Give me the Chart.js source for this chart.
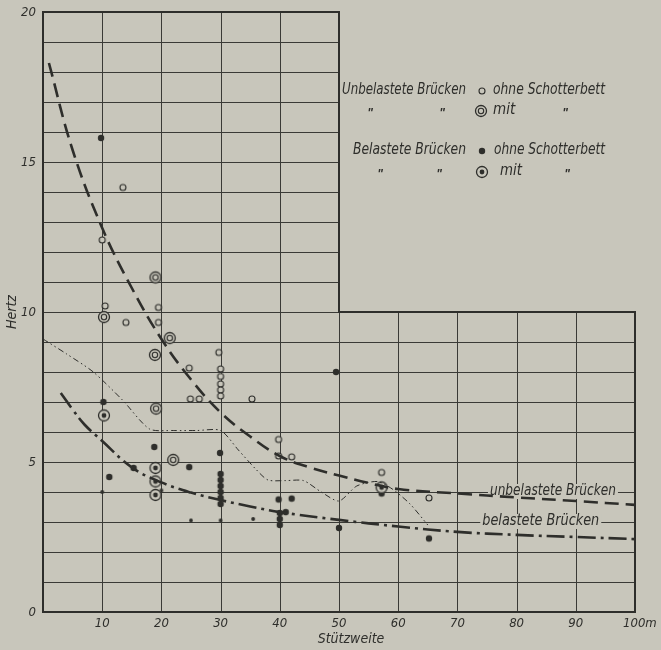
<!DOCTYPE html>
<html>
<head>
<meta charset="utf-8">
<title>Eigenfrequenz von Brücken</title>
<script src="https://cdn.jsdelivr.net/npm/chart.js"></script>
<style>
  html, body { margin: 0; padding: 0; background: #c8c6bb; }
  canvas { display: block; }
</style>
</head>
<body>
<canvas id="bridgeChart" width="661" height="650"></canvas>
<script>
// --- data ---
const xTicks = [10, 20, 30, 40, 50, 60, 70, 80, 90, 100];
const xTickLabels = ['10', '20', '30', '40', '50', '60', '70', '80', '90', '100m'];
const yTicks = [0, 5, 10, 15, 20];

// curves
const unbelX = [1, 5, 10, 15, 20, 25, 30, 35, 40, 45, 50, 55, 60, 70, 80, 90, 100];
const unbelY = [18.3, 15.4, 12.8, 10.8, 9.1, 7.75, 6.65, 5.85, 5.2, 4.82, 4.55, 4.3, 4.1, 3.95, 3.82, 3.7, 3.57];
const belX = [3, 5, 7, 10, 15, 20, 25, 30, 35, 40, 50, 60, 70, 80, 90, 100];
const belY = [7.3, 6.75, 6.25, 5.7, 4.82, 4.32, 3.98, 3.73, 3.52, 3.33, 3.07, 2.85, 2.67, 2.57, 2.5, 2.43];
const meanX = [0, 4, 8.5, 13.5, 18, 22, 26, 30, 33, 36, 38, 41, 44, 47, 50, 53, 56.5, 59, 62, 65];
const meanY = [9.1, 8.6, 8.0, 7.05, 6.1, 6.05, 6.05, 6.05, 5.4, 4.75, 4.4, 4.38, 4.38, 4.0, 3.7, 4.2, 4.35, 4.1, 3.6, 2.9];

// measured points
const unbelOhneX = [13.5, 10, 10.5, 14, 19.5, 19.5, 24.7, 24.9, 26.4, 29.7, 30, 30, 30, 30, 30, 35.3, 39.8, 39.8, 42, 57.2, 65.2];
const unbelOhneY = [14.15, 12.4, 10.2, 9.65, 10.15, 9.65, 8.13, 7.1, 7.1, 8.65, 8.1, 7.85, 7.6, 7.4, 7.2, 7.1, 5.75, 5.2, 5.17, 4.65, 3.8];
const unbelMitX = [19, 10.3, 21.4, 18.9, 19.1, 22];
const unbelMitY = [11.15, 9.83, 9.13, 8.57, 6.78, 5.07];
const belOhneX = [9.8, 10.2, 11.2, 15.3, 18.8, 24.7, 29.9, 30, 30, 30, 30, 30, 30, 39.8, 42, 40, 40, 40, 41, 49.5, 50, 57.2, 65.2];
const belOhneY = [15.8, 7.0, 4.5, 4.8, 5.5, 4.83, 5.3, 4.6, 4.4, 4.2, 4.0, 3.8, 3.6, 3.75, 3.78, 3.3, 3.1, 2.9, 3.33, 8.0, 2.8, 3.95, 2.45];
const belMitX = [10.3, 19, 19, 19, 57.2];
const belMitY = [6.55, 4.8, 4.35, 3.9, 4.15];
const smallX = [10, 20, 25, 30, 35.5];
const smallY = [4, 4.05, 3.05, 3.05, 3.1];

const ink = '#2e2e2b';
const paper = '#c8c6bb';
const textFont = 'italic 15px "Liberation Sans Narrow", "DejaVu Sans Condensed", sans-serif';

const pts = (xs, ys) => xs.map((x, i) => ({ x: x, y: ys[i] }));

function drawMarker(g, kind, x, y) {
    g.save();
    g.strokeStyle = ink;
    g.fillStyle = paper;
    if (kind === 'open') {
        g.lineWidth = 1.1;
        g.beginPath(); g.arc(x, y, 3, 0, Math.PI * 2); g.fill(); g.stroke();
    } else if (kind === 'double') {
        g.lineWidth = 1.3;
        g.beginPath(); g.arc(x, y, 5.5, 0, Math.PI * 2); g.fill(); g.stroke();
        g.lineWidth = 1.1;
        g.beginPath(); g.arc(x, y, 2.7, 0, Math.PI * 2); g.stroke();
    } else if (kind === 'dot') {
        g.fillStyle = ink;
        g.beginPath(); g.arc(x, y, 3.2, 0, Math.PI * 2); g.fill();
    } else if (kind === 'ringdot') {
        g.lineWidth = 1.3;
        g.beginPath(); g.arc(x, y, 5.5, 0, Math.PI * 2); g.fill(); g.stroke();
        g.fillStyle = ink;
        g.beginPath(); g.arc(x, y, 2.4, 0, Math.PI * 2); g.fill();
    } else if (kind === 'small') {
        g.fillStyle = ink;
        g.beginPath(); g.arc(x, y, 1.9, 0, Math.PI * 2); g.fill();
    }
    g.restore();
}

function markerImage(kind) {
    const c = document.createElement('canvas');
    c.width = 16; c.height = 16;
    drawMarker(c.getContext('2d'), kind, 8, 8);
    return c;
}

function curve(xs, ys, width, dash, tension) {
    return {
        data: pts(xs, ys), showLine: true, pointRadius: 0,
        borderColor: ink, borderWidth: width, borderDash: dash,
        tension: tension, fill: false
    };
}

function marks(xs, ys, kind) {
    return {
        data: pts(xs, ys), showLine: false,
        pointStyle: markerImage(kind), pointRadius: 6
    };
}

// grid, labels and legend text drawn from the scales
const paperPlugin = {
    id: 'paper',
    beforeDraw(chart) {
        const g = chart.ctx, xs = chart.scales.x, ys = chart.scales.y;
        const X = v => xs.getPixelForValue(v), Y = v => ys.getPixelForValue(v);
        g.save();
        g.fillStyle = paper;
        g.fillRect(0, 0, chart.width, chart.height);
        g.strokeStyle = '#3a3a36';
        g.lineWidth = 1;
        // vertical grid lines
        for (let v = 10; v < 100; v += 10) {
            const top = v <= 50 ? 20 : 10;
            g.beginPath(); g.moveTo(Math.round(X(v)) + 0.5, Y(0)); g.lineTo(Math.round(X(v)) + 0.5, Y(top)); g.stroke();
        }
        // horizontal grid lines
        for (let v = 1; v < 20; v++) {
            const right = v <= 10 ? 100 : 50;
            g.beginPath(); g.moveTo(X(0), Math.round(Y(v)) + 0.5); g.lineTo(X(right), Math.round(Y(v)) + 0.5); g.stroke();
        }
        // L-shaped frame
        g.lineWidth = 2;
        g.strokeStyle = ink;
        g.beginPath();
        g.moveTo(X(0), Y(20)); g.lineTo(X(50), Y(20)); g.lineTo(X(50), Y(10));
        g.lineTo(X(100), Y(10)); g.lineTo(X(100), Y(0)); g.lineTo(X(0), Y(0)); g.closePath();
        g.stroke();
        g.restore();
    },
    beforeDatasetsDraw(chart) {
        const g = chart.ctx, xs = chart.scales.x, ys = chart.scales.y;
        const X = v => xs.getPixelForValue(v), Y = v => ys.getPixelForValue(v);
        g.save();
        g.fillStyle = ink;
        g.font = 'italic 13px "Liberation Sans Narrow", "DejaVu Sans Condensed", sans-serif';
        g.textBaseline = 'middle';
        // y ticks
        g.textAlign = 'right';
        yTicks.forEach(v => g.fillText(String(v), X(0) - 7, Y(v) + 1));
        // x ticks
        xTicks.forEach((v, i) => {
            const lab = xTickLabels[i];
            if (lab.endsWith('m')) { g.textAlign = 'left'; g.fillText(lab, X(v) - 12, Y(0) + 12); }
            else { g.textAlign = 'center'; g.fillText(lab, X(v), Y(0) + 12); }
        });
        // axis titles
        g.font = 'italic 14px "Liberation Sans Narrow", "DejaVu Sans Condensed", sans-serif';
        g.textAlign = 'center';
        g.fillText('Stützweite', X(50) + 12, Y(0) + 27);
        g.save();
        g.translate(12, Y(10));
        g.rotate(-Math.PI / 2);
        g.fillText('Hertz', 0, 0);
        g.restore();

        // curve captions sitting on grid lines
        g.font = textFont;
        g.textAlign = 'left';
        const caption = (txt, x0, w, yv) => {
            g.fillStyle = paper;
            g.fillRect(x0 - 2, Y(yv) - 8, w + 4, 15);
            g.fillStyle = ink;
            g.fillText(txt, x0, Y(yv) - 1, w);
        };
        caption('unbelastete Brücken', X(75.5), 126, 4);
        caption('belastete Brücken', X(74.2), 117, 3);

        // legend
        const ditto = x => { g.font = 'italic bold 12px "Liberation Sans Narrow", sans-serif'; g.textAlign = 'center'; g.fillText('"', x, 0); };
        g.translate(0, 0);
        g.font = textFont; g.textAlign = 'left';
        g.fillText('Unbelastete Brücken', 342, 90, 124);
        drawMarker(g, 'open', 482, 91);
        g.fillText('ohne Schotterbett', 493, 90, 112);
        g.save(); g.translate(0, 114);
        ditto(370); ditto(442); ditto(565);
        g.restore();
        drawMarker(g, 'double', 481, 111);
        g.font = textFont; g.textAlign = 'left';
        g.fillText('mit', 493, 110, 24);

        g.fillText('Belastete Brücken', 353, 150, 113);
        drawMarker(g, 'dot', 482, 151);
        g.fillText('ohne Schotterbett', 494, 150, 111);
        g.save(); g.translate(0, 175);
        ditto(380); ditto(439); ditto(567);
        g.restore();
        drawMarker(g, 'ringdot', 482, 172);
        g.font = textFont; g.textAlign = 'left';
        g.fillText('mit', 500, 171, 22);
        g.restore();
    }
};

const ctx = document.getElementById('bridgeChart').getContext('2d');
const bridgeChart = new Chart(ctx, {
    type: 'scatter',
    data: {
        datasets: [
            curve(meanX, meanY, 1, [6, 3, 1.5, 3, 1.5, 3], 0.25),
            curve(unbelX, unbelY, 2.6, [14, 7], 0.4),
            curve(belX, belY, 2.6, [18, 5, 3, 5], 0.4),
            marks(unbelOhneX, unbelOhneY, 'open'),
            marks(unbelMitX, unbelMitY, 'double'),
            marks(belMitX, belMitY, 'ringdot'),
            marks(belOhneX, belOhneY, 'dot'),
            marks(smallX, smallY, 'small')
        ]
    },
    options: {
        responsive: false,
        animation: false,
        layout: { padding: { left: 43, right: 26, top: 12, bottom: 38 } },
        scales: {
            x: { type: 'linear', min: 0, max: 100, display: false },
            y: { type: 'linear', min: 0, max: 20, display: false }
        },
        plugins: {
            legend: { display: false },
            tooltip: { enabled: false }
        }
    },
    plugins: [paperPlugin]
});
</script>
</body>
</html>
